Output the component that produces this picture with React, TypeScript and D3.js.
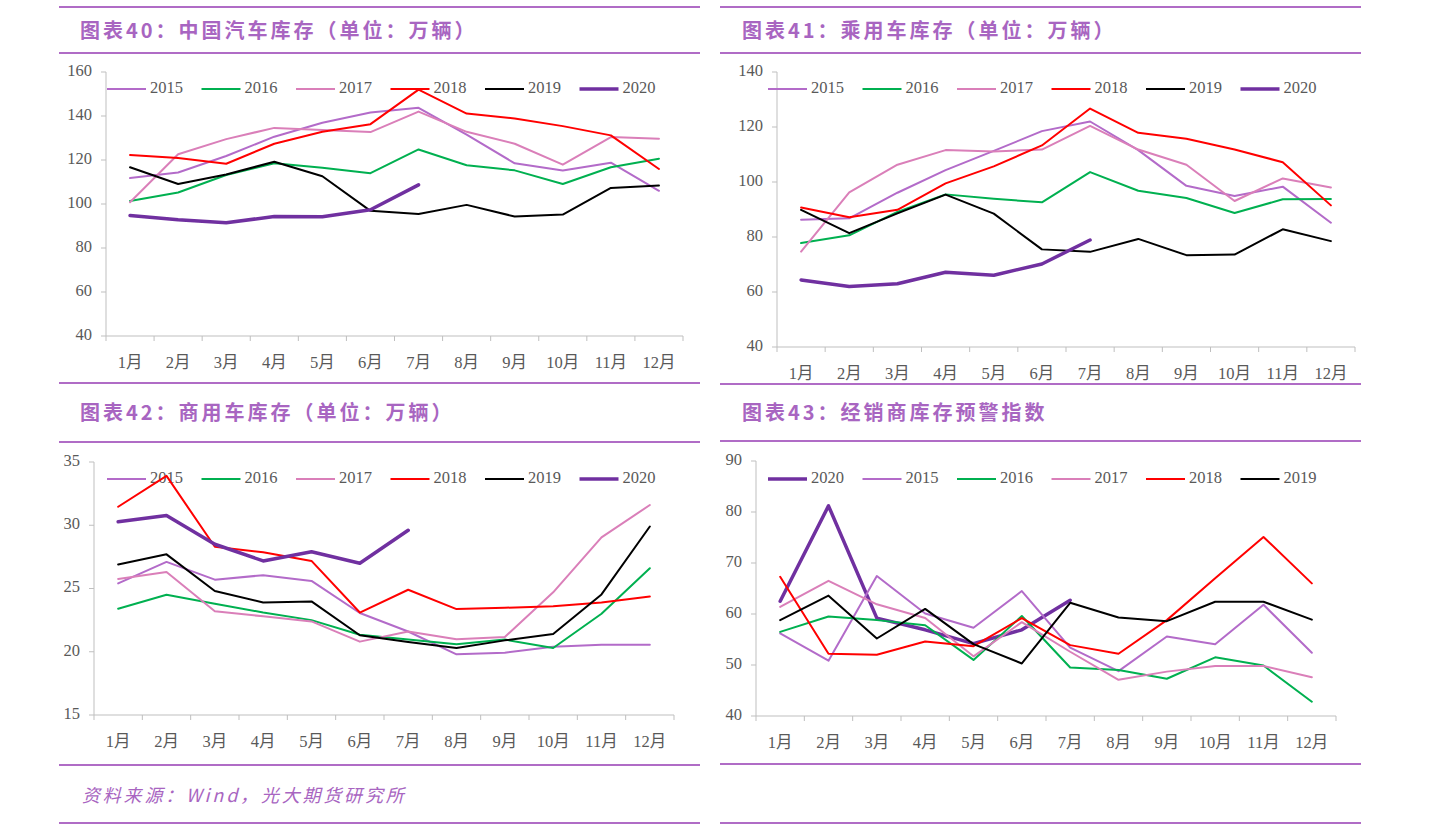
import React from 'react';
import * as d3 from 'd3';

const MONTHS = ['1月', '2月', '3月', '4月', '5月', '6月', '7月', '8月', '9月', '10月', '11月', '12月'];

// 图表40 中国汽车库存
const c40_2015 = [111.8, 114.3, 121.8, 130.6, 136.9, 141.6, 143.7, 131.5, 118.5, 115.2, 118.8, 106];
const c40_2016 = [101.4, 105.2, 113.2, 118.5, 116.5, 114, 124.8, 117.6, 115.3, 109.1, 116.7, 120.6];
const c40_2017 = [100.8, 122.6, 129.5, 134.6, 133.6, 132.7, 142, 132.8, 127.4, 117.9, 130.4, 129.7];
const c40_2018 = [122.3, 120.9, 118.3, 127.4, 132.8, 136.3, 152, 141.1, 138.9, 135.4, 131.2, 115.9];
const c40_2019 = [116.7, 109.1, 113.4, 119.2, 112.6, 96.9, 95.5, 99.6, 94.3, 95.2, 107.3, 108.4];
const c40_2020 = [94.8, 92.8, 91.5, 94.3, 94.2, 97.4, 108.7];

// 图表41 乘用车库存
const c41_2015 = [86.3, 86.8, 96.1, 104.3, 111.3, 118.5, 122, 111.6, 98.6, 94.9, 98.3, 85.2];
const c41_2016 = [77.8, 80.6, 89.1, 95.5, 93.9, 92.6, 103.6, 96.8, 94.2, 88.7, 93.7, 93.8];
const c41_2017 = [74.7, 96.2, 106.3, 111.6, 111.1, 111.8, 120.4, 111.8, 106.3, 93.1, 101.3, 98];
const c41_2018 = [90.7, 87.2, 89.9, 99.5, 105.7, 113.3, 126.7, 117.9, 115.7, 111.8, 107.2, 91.5];
const c41_2019 = [89.9, 81.4, 88.6, 95.4, 88.5, 75.5, 74.6, 79.3, 73.4, 73.6, 82.8, 78.5];
const c41_2020 = [64.4, 62, 63, 67.2, 66.1, 70.2, 78.9];

// 图表42 商用车库存
const c42_2015 = [25.4, 27.1, 25.7, 26.05, 25.6, 23.06, 21.6, 19.8, 19.93, 20.4, 20.56, 20.56];
const c42_2016 = [23.4, 24.5, 23.8, 23.1, 22.5, 21.35, 20.96, 20.6, 20.96, 20.3, 23, 26.6];
const c42_2017 = [25.76, 26.3, 23.2, 22.8, 22.4, 20.8, 21.6, 20.98, 21.17, 24.7, 29.04, 31.6];
const c42_2018 = [31.46, 33.9, 28.3, 27.86, 27.18, 23.1, 24.9, 23.37, 23.48, 23.6, 23.9, 24.37];
const c42_2019 = [26.9, 27.7, 24.8, 23.9, 23.98, 21.3, 20.77, 20.3, 20.9, 21.4, 24.53, 29.9];
const c42_2020 = [30.28, 30.77, 28.5, 27.18, 27.9, 27, 29.6];

// 图表43 经销商库存预警指数
const c43_2020 = [62.5, 81.2, 59.2, 56.9, 54.2, 56.9, 62.7];
const c43_2015 = [56.2, 50.85, 67.45, 60.1, 57.3, 64.5, 53.4, 48.8, 55.6, 54.05, 61.8, 52.4];
const c43_2016 = [56.5, 59.5, 58.8, 57.8, 51, 59.6, 49.5, 49, 47.3, 51.5, 49.9, 42.8];
const c43_2017 = [61.4, 66.5, 61.9, 59.2, 51.7, 58.4, 52.6, 47.1, 48.7, 49.8, 49.8, 47.6];
const c43_2018 = [67.3, 52.2, 52, 54.6, 53.7, 59.2, 53.9, 52.2, 58.8, 67, 75.1, 66];
const c43_2019 = [58.8, 63.6, 55.2, 61, 54.1, 50.3, 62.2, 59.3, 58.6, 62.4, 62.4, 58.9];

const COLORS: Record<string, string> = {
  '2015': '#b36bc9',
  '2016': '#00b050',
  '2017': '#da7fb9',
  '2018': '#ff0000',
  '2019': '#000000',
  '2020': '#7030a0',
};

const PURPLE = '#b06cc6';
const TITLE_COLOR = '#a865c1';
const TEXT_GRAY = '#595959';
const AXIS_GRAY = '#bfbfbf';
const SERIF = '"Liberation Serif", "Times New Roman", "Noto Sans CJK SC", serif';
const CJK = '"Noto Sans CJK SC", sans-serif';

type Series = { name: string; values: number[] };

type PanelProps = {
  x0: number;
  x1: number;
  yTop: number;
  yBottom: number;
  domain: [number, number];
  step: number;
  series: Series[];
  legendX: number;
  legendY: number;
  labelY: number;
};

function Panel({ x0, x1, yTop, yBottom, domain, step, series, legendX, legendY, labelY }: PanelProps) {
  const xb = d3.scaleBand<string>().domain(MONTHS).range([x0, x1]).padding(0);
  const y = d3.scaleLinear().domain(domain).range([yBottom, yTop]);
  const ticks = d3.range(domain[0], domain[1] + step / 2, step);
  const cx = (i: number) => (xb(MONTHS[i]) as number) + xb.bandwidth() / 2;
  const line = d3
    .line<number>()
    .x((_, i) => cx(i))
    .y((v) => y(v));
  const boundaries = d3.range(0, MONTHS.length + 1).map((i) => x0 + i * xb.bandwidth());

  return (
    <g>
      <line x1={x0} x2={x0} y1={yTop} y2={yBottom} stroke={AXIS_GRAY} strokeWidth={1} />
      {ticks.map((t) => (
        <g key={'yt' + t}>
          <line x1={x0 - 5} x2={x0} y1={y(t)} y2={y(t)} stroke={AXIS_GRAY} strokeWidth={1} />
          <text
            x={x0 - 14}
            y={y(t)}
            textAnchor="end"
            dominantBaseline="middle"
            fontFamily={SERIF}
            fontSize={16.5}
            fill={TEXT_GRAY}
          >
            {t}
          </text>
        </g>
      ))}
      <line x1={x0} x2={x1} y1={yBottom} y2={yBottom} stroke={AXIS_GRAY} strokeWidth={1} />
      {boundaries.map((bx, i) => (
        <line key={'xt' + i} x1={bx} x2={bx} y1={yBottom} y2={yBottom + 5} stroke={AXIS_GRAY} strokeWidth={1} />
      ))}
      {MONTHS.map((m, i) => (
        <text
          key={'xl' + m}
          x={cx(i)}
          y={labelY}
          textAnchor="middle"
          dominantBaseline="middle"
          fontFamily={SERIF}
          fontSize={16.5}
          fill={TEXT_GRAY}
        >
          {m}
        </text>
      ))}
      {series.map((s, i) => {
        const lx = legendX + i * 94.5;
        return (
          <g key={'lg' + s.name}>
            <line
              x1={lx}
              x2={lx + 39}
              y1={legendY}
              y2={legendY}
              stroke={COLORS[s.name]}
              strokeWidth={s.name === '2020' ? 3.5 : 2}
            />
            <text
              x={lx + 43}
              y={legendY}
              dominantBaseline="middle"
              fontFamily={SERIF}
              fontSize={16.5}
              fill={TEXT_GRAY}
            >
              {s.name}
            </text>
          </g>
        );
      })}
      {series.map((s) => (
        <path
          key={'s' + s.name}
          d={line(s.values) || ''}
          fill="none"
          stroke={COLORS[s.name]}
          strokeWidth={s.name === '2020' ? 3.5 : 2}
          strokeLinejoin="round"
          strokeLinecap="round"
        />
      ))}
    </g>
  );
}

function Rule({ x1, x2, y }: { x1: number; x2: number; y: number }) {
  return <line x1={x1} x2={x2} y1={y} y2={y} stroke={PURPLE} strokeWidth={2} />;
}

function Title({ x, y, text }: { x: number; y: number; text: string }) {
  return (
    <text
      x={x}
      y={y}
      dominantBaseline="middle"
      fontFamily={CJK}
      fontSize={20}
      fontWeight={700}
      letterSpacing={3}
      fill={TITLE_COLOR}
    >
      {text}
    </text>
  );
}

export default function App() {
  const s40: Series[] = [
    { name: '2015', values: c40_2015 },
    { name: '2016', values: c40_2016 },
    { name: '2017', values: c40_2017 },
    { name: '2018', values: c40_2018 },
    { name: '2019', values: c40_2019 },
    { name: '2020', values: c40_2020 },
  ];
  const s41: Series[] = [
    { name: '2015', values: c41_2015 },
    { name: '2016', values: c41_2016 },
    { name: '2017', values: c41_2017 },
    { name: '2018', values: c41_2018 },
    { name: '2019', values: c41_2019 },
    { name: '2020', values: c41_2020 },
  ];
  const s42: Series[] = [
    { name: '2015', values: c42_2015 },
    { name: '2016', values: c42_2016 },
    { name: '2017', values: c42_2017 },
    { name: '2018', values: c42_2018 },
    { name: '2019', values: c42_2019 },
    { name: '2020', values: c42_2020 },
  ];
  const s43: Series[] = [
    { name: '2020', values: c43_2020 },
    { name: '2015', values: c43_2015 },
    { name: '2016', values: c43_2016 },
    { name: '2017', values: c43_2017 },
    { name: '2018', values: c43_2018 },
    { name: '2019', values: c43_2019 },
  ];

  return (
    <svg
      width={1440}
      height={827}
      style={{ position: 'absolute', left: 0, top: 0, background: '#ffffff' }}
    >
      <rect x={0} y={0} width={1440} height={827} fill="#ffffff" />
      <Rule x1={59} x2={700} y={7} />
      <Rule x1={59} x2={700} y={53} />
      <Rule x1={59} x2={700} y={383} />
      <Rule x1={59} x2={700} y={442} />
      <Rule x1={59} x2={700} y={765} />
      <Rule x1={59} x2={700} y={823} />
      <Rule x1={720} x2={1361} y={7} />
      <Rule x1={720} x2={1361} y={53} />
      <Rule x1={720} x2={1361} y={384} />
      <Rule x1={720} x2={1361} y={441} />
      <Rule x1={720} x2={1361} y={764} />
      <Rule x1={720} x2={1361} y={823} />

      <Title x={80} y={33} text="图表40：中国汽车库存（单位：万辆）" />
      <Title x={742} y={33} text="图表41：乘用车库存（单位：万辆）" />
      <Title x={80} y={415} text="图表42：商用车库存（单位：万辆）" />
      <Title x={742} y={415} text="图表43：经销商库存预警指数" />

      <Panel x0={106} x1={683} yTop={72} yBottom={336} domain={[40, 160]} step={20} series={s40} legendX={107} legendY={89} labelY={364} />
      <Panel x0={777} x1={1355} yTop={72} yBottom={347} domain={[40, 140]} step={20} series={s41} legendX={768} legendY={89} labelY={375} />
      <Panel x0={94} x1={674} yTop={462} yBottom={715} domain={[15, 35]} step={5} series={s42} legendX={107} legendY={479} labelY={743} />
      <Panel x0={756} x1={1336} yTop={461} yBottom={716} domain={[40, 90]} step={10} series={s43} legendX={768} legendY={479} labelY={744} />

      <text
        x={82}
        y={797}
        dominantBaseline="middle"
        fontFamily={CJK}
        fontSize={18}
        fontStyle="italic"
        letterSpacing={2.8}
        fill={TITLE_COLOR}
      >
        资料来源：Wind，光大期货研究所
      </text>
    </svg>
  );
}
